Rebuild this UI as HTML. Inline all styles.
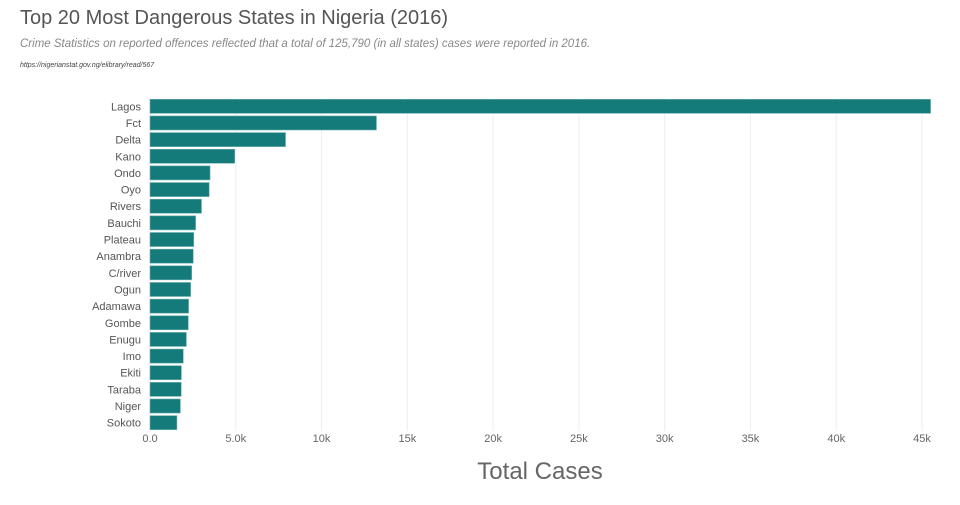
<!DOCTYPE html>
<html><head><meta charset="utf-8"><style>
body{margin:0;background:#fff;font-family:"Liberation Sans",sans-serif;}
svg text{font-family:"Liberation Sans",sans-serif;}
</style></head><body>
<svg id="chart" width="960" height="500">
<text x="20" y="24" font-size="20" fill="#555">Top 20 Most Dangerous States in Nigeria (2016)</text>
<text x="20" y="47" font-size="11.5" font-style="italic" fill="#888">Crime Statistics on reported offences reflected that a total of 125,790 (in all states) cases were reported in 2016.</text>
<text x="20" y="67" font-size="7" font-style="italic" fill="#444">https://nigerianstat.gov.ng/elibrary/read/567</text>
<g id="grid"></g><g id="bars"></g><g id="ylabels"></g><g id="xlabels"></g>
<text x="540" y="479" font-size="24" fill="#666" text-anchor="middle">Total Cases</text>
</svg>
<script>
const states=["Lagos","Fct","Delta","Kano","Ondo","Oyo","Rivers","Bauchi","Plateau","Anambra","C/river","Ogun","Adamawa","Gombe","Enugu","Imo","Ekiti","Taraba","Niger","Sokoto"];
const cases=[45500,13200,7900,4940,3500,3450,3000,2660,2550,2520,2430,2370,2250,2230,2120,1940,1830,1820,1770,1570];
const ticks=[0,5000,10000,15000,20000,25000,30000,35000,40000,45000];
const tickLabels=["0.0","5.0k","10k","15k","20k","25k","30k","35k","40k","45k"];
const NS="http://www.w3.org/2000/svg";
const x0=150,pxPerUnit=772/45000,plotTop=98,band=16.65;
const xs=v=>x0+v*pxPerUnit;
function mk(t,a,p){const e=document.createElementNS(NS,t);for(const k in a)e.setAttribute(k,a[k]);document.getElementById(p).appendChild(e);return e;}
ticks.forEach((t,i)=>{
  const l=mk("line",{x1:xs(t),x2:xs(t),y1:plotTop,y2:plotTop+band*20,stroke:"#eee","stroke-width":1},"grid");
  
  
  const tx=mk("text",{x:xs(t),y:442,"font-size":11,fill:"#666","text-anchor":"middle"},"xlabels");
  tx.textContent=tickLabels[i];
  
  
});
states.forEach((s,i)=>{
  const y=plotTop+i*band;
  const r=mk("rect",{x:x0,y:y+1.3,width:xs(cases[i])-x0,height:band-2.6,fill:"#147a7a",stroke:"#6fb3b3","stroke-width":0.6},"bars");
  
  
  const t=mk("text",{x:141,y:y+band/2+4,"font-size":11,fill:"#555","text-anchor":"end"},"ylabels");
  t.textContent=s;
  
  
});
</script>
</body></html>
